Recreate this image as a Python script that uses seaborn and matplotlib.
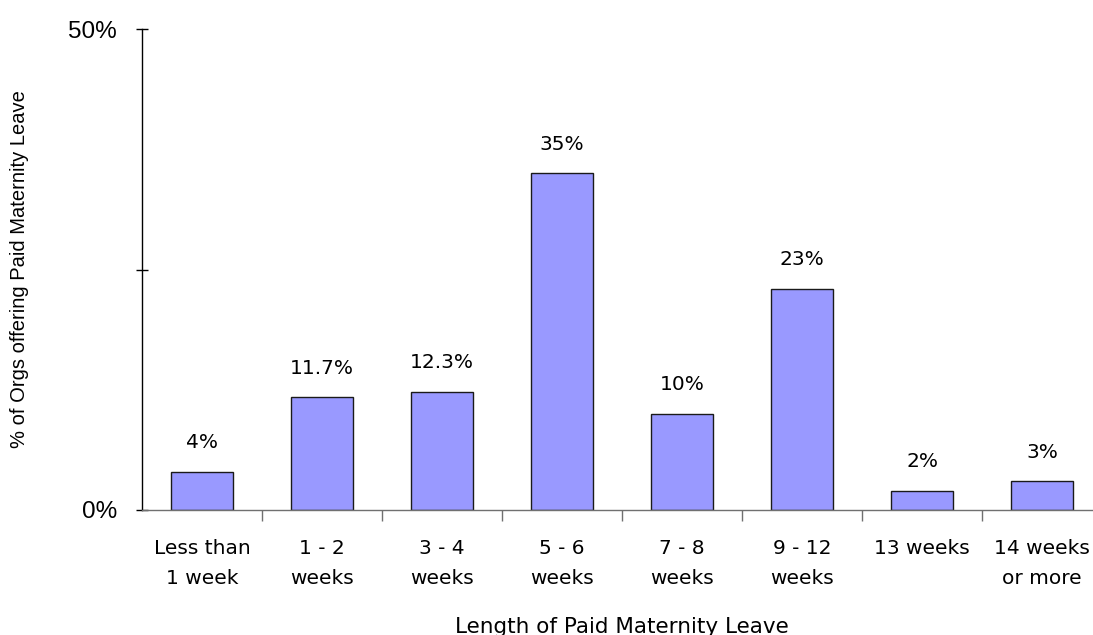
import matplotlib
matplotlib.use("Agg")
import matplotlib.pyplot as plt
import seaborn as sns
import pandas as pd
import numpy as np

categories = ["Less than\n1 week", "1 - 2\nweeks", "3 - 4\nweeks", "5 - 6\nweeks",
              "7 - 8\nweeks", "9 - 12\nweeks", "13 weeks", "14 weeks\nor more"]
values = [4, 11.7, 12.3, 35, 10, 23, 2, 3]
value_labels = ["4%", "11.7%", "12.3%", "35%", "10%", "23%", "2%", "3%"]
y_ticks = [0, 25, 50]
y_tick_labels = ["0%", "", "50%"]

sns.set_theme(style="white")
plt.rcParams["font.family"] = ["DejaVu Sans"]
plt.rcParams["text.color"] = "black"
plt.rcParams["axes.labelcolor"] = "black"
plt.rcParams["xtick.labelcolor"] = "black"
plt.rcParams["ytick.labelcolor"] = "black"

df = pd.DataFrame({"length": categories, "pct": values})

fig = plt.figure(figsize=(10.93, 6.35), dpi=100)
ax = fig.add_axes([142 / 1093, 1 - 510 / 635, 960 / 1093, 481 / 635])

sns.barplot(data=df, x="length", y="pct", order=categories, color="#9999FF",
            width=0.52, edgecolor="#1a1a1a", linewidth=1.0, saturation=1, ax=ax)

ax.set_xlim(-0.5, len(categories) - 0.5)
ax.set_ylim(0, 50)

for i, (v, lab) in enumerate(zip(values, value_labels)):
    ax.annotate(lab, (i, v), xytext=(0, 14), textcoords="offset points",
                ha="center", va="bottom", fontsize=14.5, color="black")

# y axis
ax.set_yticks(y_ticks)
ax.set_yticklabels(y_tick_labels, fontsize=17.5, family="Liberation Sans")
ax.tick_params(axis="y", direction="inout", length=8, width=1, color="black", pad=14,
               left=True)

# x axis: labels centred on bars, tick marks on category boundaries
ax.set_xticks(range(len(categories)))
ax.set_xticklabels(categories, fontsize=14.5, linespacing=1.75)
ax.tick_params(axis="x", which="major", length=0, pad=21)
ax.set_xticks(np.arange(0.5, len(categories) - 0.5, 1), minor=True)
ax.tick_params(axis="x", which="minor", direction="out", length=8, width=1,
               color="#707070", bottom=True)

for side in ["top", "right"]:
    ax.spines[side].set_visible(False)
ax.spines["left"].set_color("black")
ax.spines["left"].set_linewidth(1)
ax.spines["bottom"].set_color("#707070")
ax.spines["bottom"].set_linewidth(1)

ax.set_xlabel("Length of Paid Maternity Leave", fontsize=15.5, va="center")
ax.xaxis.set_label_coords((622 - 142) / 960, -(627 - 510) / 481)
ax.set_ylabel("% of Orgs offering Paid Maternity Leave", fontsize=14.5,
              family="Liberation Sans", va="center")
ax.yaxis.set_label_coords(-(142 - 19) / 960, 0.5)

fig.savefig("out.png", dpi=100)
